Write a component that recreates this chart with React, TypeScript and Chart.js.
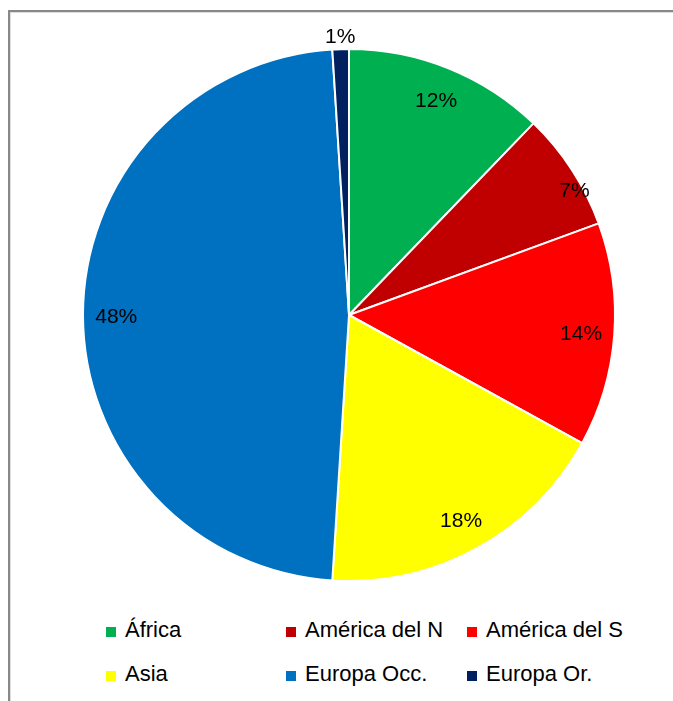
import React, { useEffect, useRef } from "react";
import { Chart, registerables } from "chart.js";

Chart.register(...registerables);

const categories = ["África", "América del N", "América del S", "Asia", "Europa Occ.", "Europa Or."];
const values = [12.2, 7.2, 13.6, 18.0, 48.0, 1.0];
const colors = ["#00B050", "#C00000", "#FF0000", "#FFFF00", "#0070C0", "#002060"];

const FONT = "'Liberation Sans', Arial, sans-serif";

const labelPlugin = {
  id: "sliceLabels",
  afterDatasetsDraw(chart: any) {
    const ctx = chart.ctx;
    const meta = chart.getDatasetMeta(0);
    const data = chart.data.datasets[0].data as number[];
    const total = data.reduce((a, b) => a + b, 0);
    ctx.save();
    ctx.font = `21px ${FONT}`;
    ctx.fillStyle = "#000";
    ctx.textAlign = "center";
    ctx.textBaseline = "middle";
    meta.data.forEach((arc: any, i: number) => {
      const pct = (data[i] / total) * 100;
      let mid = (arc.startAngle + arc.endAngle) / 2;
      const R = arc.outerRadius;
      let r: number;
      if (pct < 3) r = R + 14;
      else if (pct < 10) {
        r = R * 0.97;
        mid += 0.07;
      } else r = R * 0.875;
      const x = arc.x + Math.cos(mid) * r;
      const y = arc.y + Math.sin(mid) * r + 2;
      ctx.fillText(Math.round(pct) + "%", x, y);
    });
    ctx.restore();
  },
};

export default function App() {
  const ref = useRef<HTMLCanvasElement | null>(null);

  useEffect(() => {
    if (!ref.current) return;
    const chart = new Chart(ref.current, {
      type: "pie",
      data: {
        labels: categories,
        datasets: [
          {
            data: values,
            backgroundColor: colors,
            borderColor: "#ffffff",
            borderWidth: 2,
          },
        ],
      },
      options: {
        responsive: false,
        animation: false,
        layout: { padding: { left: 72, top: 36, right: 57, bottom: 20 } },
        plugins: {
          legend: { display: false },
          tooltip: { enabled: false },
        },
      },
      plugins: [labelPlugin],
    });
    return () => chart.destroy();
  }, []);

  const legendCols = [96, 276, 457];
  const legendRows = [618, 662];

  return (
    <div
      style={{
        position: "fixed",
        left: 8,
        top: 10,
        width: 665,
        height: 691,
        boxSizing: "border-box",
        borderTop: "2px solid #888",
        borderLeft: "2px solid #888",
        boxShadow: "inset 1px 1px 0 #dcdcdc",
        background: "#fff",
        fontFamily: FONT,
        overflow: "hidden",
      }}
    >
      <canvas
        ref={ref}
        width={663}
        height={590}
        style={{ position: "absolute", left: 0, top: 0, width: 663, height: 590 }}
      />
      {categories.map((c, i) => {
        const col = i % 3;
        const row = Math.floor(i / 3);
        return (
          <div
            key={c}
            style={{
              position: "absolute",
              left: legendCols[col],
              top: legendRows[row] - 14,
              height: 28,
              display: "flex",
              alignItems: "center",
              whiteSpace: "nowrap",
            }}
          >
            <span
              style={{
                display: "inline-block",
                width: 10,
                height: 10,
                background: colors[i],
                marginRight: 9,
                marginTop: 4,
              }}
            />
            <span style={{ fontSize: 22, color: "#000", lineHeight: "28px" }}>{c}</span>
          </div>
        );
      })}
    </div>
  );
}
